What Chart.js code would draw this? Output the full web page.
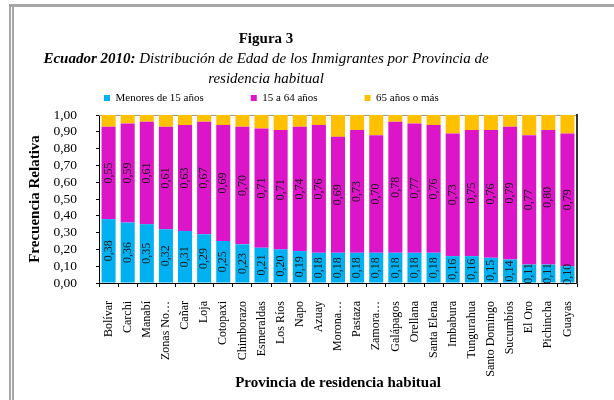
<!DOCTYPE html>
<html>
<head>
<meta charset="utf-8">
<script src="https://cdn.jsdelivr.net/npm/chart.js@4.4.1/dist/chart.umd.min.js"></script>
<style>
html,body{margin:0;padding:0;background:#fff;}
#wrap{position:relative;width:614px;height:400px;overflow:hidden;background:#fff;}
#c{position:absolute;left:0;top:0;}
.fr{position:absolute;background:#a6a6a6;}
#title{position:absolute;left:0;top:28px;width:532px;text-align:center;font-family:"Liberation Serif",serif;font-size:15px;line-height:20px;color:#000;}
</style>
</head>
<body>
<div id="wrap">
  <canvas id="c" width="614" height="400"></canvas>
  <div class="fr" style="left:9px;top:4px;width:605px;height:3px;"></div>
  <div class="fr" style="left:9px;top:4px;width:2px;height:396px;"></div>
  <div class="fr" style="left:12px;top:7px;width:2px;height:393px;"></div>
  <div id="title"><b>Figura 3</b><br><i><b>Ecuador 2010:</b> Distribución de Edad de los Inmigrantes por Provincia de<br>residencia habitual</i></div>
</div>
<script>
const provincias = ["Bolívar","Carchi","Manabí","Zonas No…","Cañar","Loja","Cotopaxi","Chimborazo","Esmeraldas","Los Ríos","Napo","Azuay","Morona…","Pastaza","Zamora…","Galápagos","Orellana","Santa Elena","Imbabura","Tungurahua","Santo Domingo","Sucumbíos","El Oro","Pichincha","Guayas"];
const menores15 = [0.38,0.36,0.35,0.32,0.31,0.29,0.25,0.23,0.21,0.20,0.19,0.18,0.18,0.18,0.18,0.18,0.18,0.18,0.16,0.16,0.15,0.14,0.11,0.11,0.10];
const de15a64 = [0.55,0.59,0.61,0.61,0.63,0.67,0.69,0.70,0.71,0.71,0.74,0.76,0.69,0.73,0.70,0.78,0.77,0.76,0.73,0.75,0.76,0.79,0.77,0.80,0.79];
const mas65 = [0.07,0.05,0.04,0.07,0.06,0.04,0.06,0.07,0.08,0.09,0.07,0.06,0.13,0.09,0.12,0.04,0.05,0.06,0.11,0.09,0.09,0.07,0.12,0.09,0.11];
const seriesNames = ["Menores de 15 años","15 a 64 años","65 años o más"];
const yTicks = [0,0.1,0.2,0.3,0.4,0.5,0.6,0.7,0.8,0.9,1.0];

const fmt = v => Number(v).toFixed(2).replace('.', ',');
const SERIF = '"Liberation Serif", serif';

const valueLabels = {
  id: 'valueLabels',
  afterDatasetsDraw(chart) {
    const ctx = chart.ctx;
    [0, 1].forEach(di => {
      const meta = chart.getDatasetMeta(di);
      const data = chart.data.datasets[di].data;
      meta.data.forEach((el, i) => {
        const cy = (el.y + el.base) / 2;
        ctx.save();
        ctx.translate(el.x, cy);
        ctx.rotate(-Math.PI / 2);
        ctx.font = '12px ' + SERIF;
        ctx.fillStyle = '#1a1a1a';
        ctx.textAlign = 'center';
        ctx.textBaseline = 'middle';
        ctx.fillText(fmt(data[i]), 0, 0);
        ctx.restore();
      });
    });
  }
};

const legendPlace = {
  id: 'legendPlace',
  afterLayout(chart) {
    const lg = chart.legend;
    if (!lg || !lg.lineWidths) return;
    const P = lg.options.labels.padding;
    const start = (lg.left + P + lg.right - lg.lineWidths[0]) / 2;
    const dx = 104 - start;
    lg.left += dx; lg.right += dx;
    const dy = (98 - P - 5.5) - lg.top;
    lg.top += dy; lg.bottom += dy;
  }
};

new Chart(document.getElementById('c'), {
  type: 'bar',
  data: {
    labels: provincias,
    datasets: [
      { label: seriesNames[0], data: menores15, backgroundColor: '#00B0F0' },
      { label: seriesNames[1], data: de15a64, backgroundColor: '#DC16C8' },
      { label: seriesNames[2], data: mas65, backgroundColor: '#FFC000' }
    ]
  },
  options: {
    responsive: false,
    animation: false,
    datasets: { bar: { barPercentage: 0.735, categoryPercentage: 1.0 } },
    layout: { padding: { top: 43, left: 0, right: 0, bottom: 0 } },
    plugins: {
      legend: {
        position: 'top',
        labels: { boxWidth: 6, boxHeight: 6, padding: 47, color: '#000', font: { family: SERIF, size: 11 } }
      },
      tooltip: { enabled: false },
      title: { display: false }
    },
    scales: {
      x: {
        stacked: true,
        ticks: { autoSkip: false, minRotation: 90, maxRotation: 90, color: '#000', font: { family: SERIF, size: 12 }, padding: 14 },
        grid: { display: true, drawOnChartArea: false, drawTicks: true, tickLength: 4, color: '#000', offset: true },
        border: { display: true, color: '#000', width: 1 },
        title: { display: true, text: 'Provincia de residencia habitual', color: '#000', font: { family: SERIF, size: 15, weight: 'bold' }, padding: { top: 0, bottom: 8 } },
        afterFit(s) { s.height = 117; }
      },
      y: {
        stacked: true,
        min: 0, max: 1,
        position: 'left',
        afterBuildTicks(s) { s.ticks = yTicks.map(v => ({ value: v })); },
        ticks: { autoSkip: false, stepSize: 0.1, color: '#000', font: { family: SERIF, size: 13.5 }, padding: 19, callback: v => fmt(v) },
        grid: { display: true, drawOnChartArea: false, drawTicks: true, tickLength: 3, color: '#000' },
        border: { display: true, color: '#000', width: 1 },
        title: { display: true, text: 'Frecuencia Relativa', color: '#000', font: { family: SERIF, size: 15, weight: 'bold' }, padding: { top: 26, bottom: 0 } },
        afterFit(s) { s.width = 99; }
      },
      xTop: {
        type: 'category', position: 'top', display: true,
        grid: { display: false }, ticks: { display: false },
        border: { display: true, color: '#9a9a9a', width: 1 },
        afterFit(s) { s.height = 4; }
      },
      yRight: {
        type: 'linear', position: 'right', display: true, min: 0, max: 1,
        grid: { display: false }, ticks: { display: false },
        border: { display: true, color: '#333', width: 2 },
        afterFit(s) { s.width = 37; }
      }
    }
  },
  plugins: [valueLabels, legendPlace]
});
</script>
</body>
</html>
